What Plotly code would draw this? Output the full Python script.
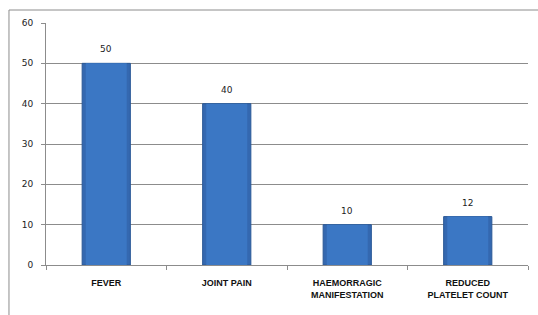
import plotly.graph_objects as go

categories = ["FEVER", "JOINT PAIN", "HAEMORRAGIC<br>MANIFESTATION", "REDUCED<br>PLATELET COUNT"]
values = [50, 40, 10, 12]
y_ticks = [0, 10, 20, 30, 40, 50, 60]

fig = go.Figure()
fig.add_trace(go.Bar(
    x=categories, y=values, width=0.4,
    marker=dict(color="#3468B0", line=dict(color="#2A5896", width=1)),
    hoverinfo="skip",
))
# lighter inner highlight for a bevel-like look
fig.add_trace(go.Bar(
    x=categories, y=values, width=0.34,
    marker=dict(color="#3B77C4", line=dict(width=0)),
    hoverinfo="skip",
))

annotations = [
    dict(x=c, y=v, text=str(v), showarrow=False, yanchor="bottom", yshift=7,
         font=dict(family="DejaVu Sans", size=9, color="#222"))
    for c, v in zip(categories, values)
]

fig.update_layout(
    width=538, height=315,
    margin=dict(l=46, r=10, t=23, b=50),
    paper_bgcolor="white", plot_bgcolor="white",
    showlegend=False, barmode="overlay", bargap=0.6,
    annotations=annotations,
    xaxis=dict(
        showline=True, linecolor="#8c8c8c", linewidth=1,
        ticks="outside", tickson="boundaries", ticklen=4, tickcolor="#8c8c8c",
        tickfont=dict(family="Liberation Sans", size=9, color="#111", weight="bold"),
        ticklabelstandoff=9,
        showgrid=False,
    ),
    yaxis=dict(
        range=[0, 60], tickvals=y_ticks,
        showline=True, linecolor="#8c8c8c", linewidth=1,
        ticks="outside", ticklen=4, tickcolor="#8c8c8c",
        tickfont=dict(family="DejaVu Sans", size=9, color="#222"),
        ticklabelstandoff=6,
        showgrid=True, gridcolor="#8c8c8c", gridwidth=1,
        zeroline=False,
    ),
    font=dict(family="Liberation Sans"),
    shapes=[dict(
        type="rect", xref="paper", yref="paper",
        x0=-0.0768, x1=1.03, y0=-0.22, y1=1.0537,
        line=dict(color="#8c8c8c", width=1), fillcolor="rgba(0,0,0,0)",
        layer="below",
    )],
)

fig.write_html("out.html", config={"displayModeBar": False},
               post_script="document.body.style.margin='0';")
